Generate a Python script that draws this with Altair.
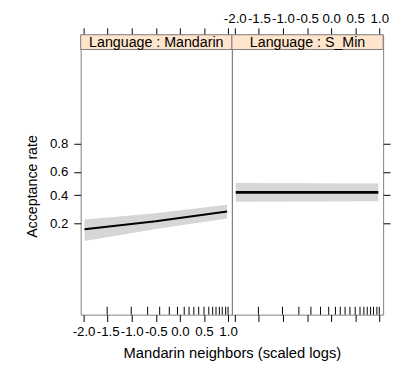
import math
import pandas as pd
import altair as alt

# ---- data ----
languages = ["Mandarin", "S_Min"]
mandarin_x = [-1.98, -0.5, 0.98]
mandarin_fit = [0.169, 0.212, 0.274]
mandarin_lower = [0.119, 0.170, 0.229]
mandarin_upper = [0.223, 0.262, 0.324]
smin_x = [-1.98, 0.98]
smin_fit = [0.424, 0.424]
smin_lower = [0.347, 0.350]
smin_upper = [0.505, 0.500]
rug_x = [-1.51, -1.01, -0.67, -0.42, -0.22, -0.05, 0.09, 0.19, 0.29, 0.39,
         0.50, 0.60, 0.68, 0.75, 0.82, 0.88, 0.95, 1.0]
x_ticks = [-2.0, -1.5, -1.0, -0.5, 0.0, 0.5, 1.0]
y_ticks = [0.2, 0.4, 0.6, 0.8]

W = 154
H = 285
STRIP = 15
FONT = "Liberation Sans"
X_DOMAIN = [-2.06, 1.08]
Y_DOMAIN = [-4.57, 5.19]  # logit scale, top part holds the strip

y_tick_logits = [math.log(p / (1 - p)) for p in y_ticks]
xs = alt.Scale(domain=X_DOMAIN, nice=False, zero=False)
ys = alt.Scale(domain=Y_DOMAIN, nice=False, zero=False)

fits = {
    "Mandarin": pd.DataFrame({"x": mandarin_x, "fit": mandarin_fit,
                              "lo": mandarin_lower, "hi": mandarin_upper}),
    "S_Min": pd.DataFrame({"x": smin_x, "fit": smin_fit,
                           "lo": smin_lower, "hi": smin_upper}),
}
rug_df = pd.DataFrame({"x": rug_x})

YLBL = "format(1/(1+exp(-datum.value)), '.1f')"
XLBL = "datum.value < 0 ? '-' + format(-datum.value, '.1f') : format(datum.value, '.1f')"


def panel(lang, is_left):
    df = fits[lang]
    base = alt.Chart(df).transform_calculate(
        lfit="log(datum.fit/(1-datum.fit))",
        llo="log(datum.lo/(1-datum.lo))",
        lhi="log(datum.hi/(1-datum.hi))",
    )
    bottom_axis = alt.Axis(orient="bottom", values=x_ticks, labelExpr=XLBL,
                           labels=is_left, labelOverlap=False,
                           title="Mandarin neighbors (scaled logs)" if is_left else None,
                           titleX=W if is_left else 0, titleFontSize=15,
                           titleFontWeight="normal", titlePadding=8,
                           tickSize=7, labelPadding=3)
    top_axis = alt.Axis(orient="top", values=x_ticks, labelExpr=XLBL,
                        labels=not is_left, labelOverlap=False,
                        title=None, tickSize=7, labelPadding=2)
    if is_left:
        left_axis = alt.Axis(orient="left", values=y_tick_logits, labelExpr=YLBL,
                             labelOverlap=False,
                             title="Acceptance rate", titleFontSize=14.5,
                             titleFontWeight="normal", titlePadding=10,
                             titleY=154, titleAlign="center", titleBaseline="bottom",
                             tickSize=7, labelPadding=6)
        y1 = alt.Y("llo:Q", scale=ys, axis=left_axis)
        y2 = alt.Y("lfit:Q", scale=ys, axis=None)
    else:
        right_axis = alt.Axis(orient="right", values=y_tick_logits, labels=False,
                              title=None, tickSize=7)
        y1 = alt.Y("llo:Q", scale=ys, axis=None)
        y2 = alt.Y("lfit:Q", scale=ys, axis=right_axis)

    band = base.mark_area(color="#d6d6d6").encode(
        x=alt.X("x:Q", scale=xs, axis=bottom_axis),
        y=y1,
        y2="lhi:Q",
    )
    line = base.mark_line(color="black",
                          strokeWidth=2 if is_left else 3).encode(
        x=alt.X("x:Q", scale=xs, axis=top_axis),
        y=y2,
    )
    rug = alt.Chart(rug_df).mark_rule(color="black", strokeWidth=1).encode(
        x=alt.X("x:Q", scale=xs, axis=None),
        y=alt.value(H - 8),
        y2=alt.value(H),
    )
    strip_df = pd.DataFrame({"label": [f"Language : {lang}"]})
    strip = alt.Chart(strip_df).mark_rect(
        fill="#FFE5CC", stroke="#808080", strokeWidth=1
    ).encode(x=alt.value(0), x2=alt.value(W), y=alt.value(0), y2=alt.value(STRIP))
    strip_text = alt.Chart(strip_df).mark_text(
        font=FONT, fontSize=14.5, color="black", baseline="middle", align="center"
    ).encode(x=alt.value(W / 2), y=alt.value(STRIP / 2 + 0.5), text="label:N")

    return alt.layer(band, line, rug, strip, strip_text).resolve_axis(
        x="independent", y="independent"
    ).properties(width=W, height=H)


chart = alt.hconcat(panel("Mandarin", True), panel("S_Min", False),
                    spacing=0, bounds="flush").properties(
    padding={"left": 16, "top": 0, "right": 0, "bottom": 0}
).configure_view(stroke="#808080", strokeWidth=1).configure_axis(
    domain=False, grid=False, tickColor="black", labelColor="black",
    labelFont=FONT, labelFontSize=13.5, titleFont=FONT, titleColor="black",
)

chart.save("out.html", embed_options={"renderer": "svg", "actions": False})
